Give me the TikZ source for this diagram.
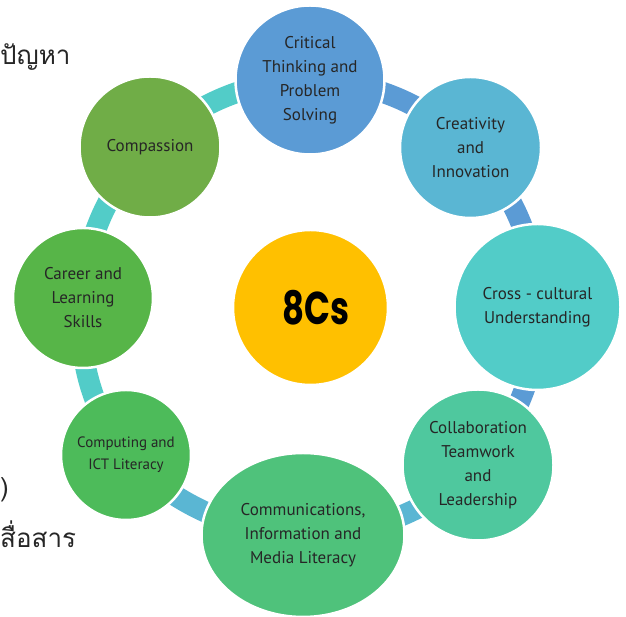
\documentclass[tikz,border=0pt]{standalone}
\usepackage{fontspec}
\setmainfont{PT Sans}
\newfontfamily\thaifont[Script=Thai]{Loma}
\newfontfamily\bigfont[FakeStretch=0.74]{Poppins}
\usetikzlibrary{shapes.geometric,backgrounds,calc}
\definecolor{cCrit}{HTML}{5B9BD5}
\definecolor{cCrea}{HTML}{5AB6D3}
\definecolor{cCross}{HTML}{52CCC8}
\definecolor{cColl}{HTML}{4FC89E}
\definecolor{cComm}{HTML}{4FC27B}
\definecolor{cComp}{HTML}{4DBB5A}
\definecolor{cCar}{HTML}{57B548}
\definecolor{cCmp}{HTML}{70AD47}
\definecolor{cMid}{HTML}{FFC000}
\definecolor{cTxt}{HTML}{262626}
\tikzset{
  bub/.style={circle, draw=white, line width=2.5pt, inner sep=0pt, align=center,
     text=cTxt, font=\fontsize{17}{24}\selectfont},
  seg/.style={line width=21pt, bend left=22.5, looseness=0.885},
  stripe/.style={line width=5pt, bend left=22.5, looseness=0.885, draw=cCmp},
  thai/.style={font=\thaifont\fontsize{26}{30}\selectfont, text=cTxt, inner sep=0pt}
}
\begin{document}
\begin{tikzpicture}[x=1pt,y=1pt]
\useasboundingbox (0,0) rectangle (626,617);
\clip (0,0) rectangle (626,617);
\coordinate (C) at (310,310);
\node[thai, anchor=base west] (t1) at (0,552) {ปัญหา};
\node[thai, anchor=base west] (t2) at (0,120) {)};
\node[thai, anchor=base west] (t3) at (0,69) {สื่อสาร};
\node[bub, fill=cMid, minimum size=155pt] (mid) at (310.5,309.5) {\hspace*{10pt}\bigfont\bfseries\fontsize{46}{46}\selectfont\color{black}8Cs};
\node[bub, fill=cCrit, minimum size=149pt] (crit) at (310,537) {Critical\\Thinking and\\Problem\\Solving};
\node[bub, fill=cCrea, minimum size=141pt] (crea) at (470.5,469.5) {Creativity\\and\\Innovation};
\node[bub, fill=cCross, minimum size=166pt] (cross) at (537.5,310) {Cross - cultural\\Understanding};
\node[bub, fill=cColl, minimum size=151pt] (coll) at (478,152) {Collaboration\\Teamwork\\and\\Leadership};
\node[bub, ellipse, fill=cComm, minimum width=203pt, minimum height=164pt] (comm) at (303,82) {Communications,\\Information and\\Media Literacy};
\node[bub, fill=cComp, minimum size=130pt, font=\fontsize{15}{22}\selectfont] (comp) at (126,162) {Computing and\\ICT Literacy};
\node[bub, fill=cCar, minimum size=140pt] (car) at (83,319) {Career and\\Learning\\Skills};
\node[bub, fill=cCmp, minimum size=141pt] (cmp) at (150,470) {Compassion};
\begin{pgfonlayer}{background}
\draw[stripe] ($(C)!1.02!(cmp.center)$) to ($(C)!1.02!(crit.center)$);
\draw[stripe] ($(C)!1.02!(car.center)$) to ($(C)!1.02!(cmp.center)$);
\draw[stripe] ($(C)!1.02!(comm.center)$) to ($(C)!1.02!(comp.center)$);
\draw[seg, draw=cCrit] (crit.center) to (crea.center);
\draw[seg, draw=cCrit] (crea.center) to (cross.center);
\draw[seg, draw=cCrit] (cross.center) to (coll.center);
\draw[seg, draw=cCrea] (coll.center) to (comm.center);
\draw[seg, draw=cCrea] (comm.center) to (comp.center);
\draw[seg, draw=cCross] (comp.center) to (car.center);
\draw[seg, draw=cCross] (car.center) to (cmp.center);
\draw[seg, draw=cCross] (cmp.center) to (crit.center);
\end{pgfonlayer}
\end{tikzpicture}
\end{document}
